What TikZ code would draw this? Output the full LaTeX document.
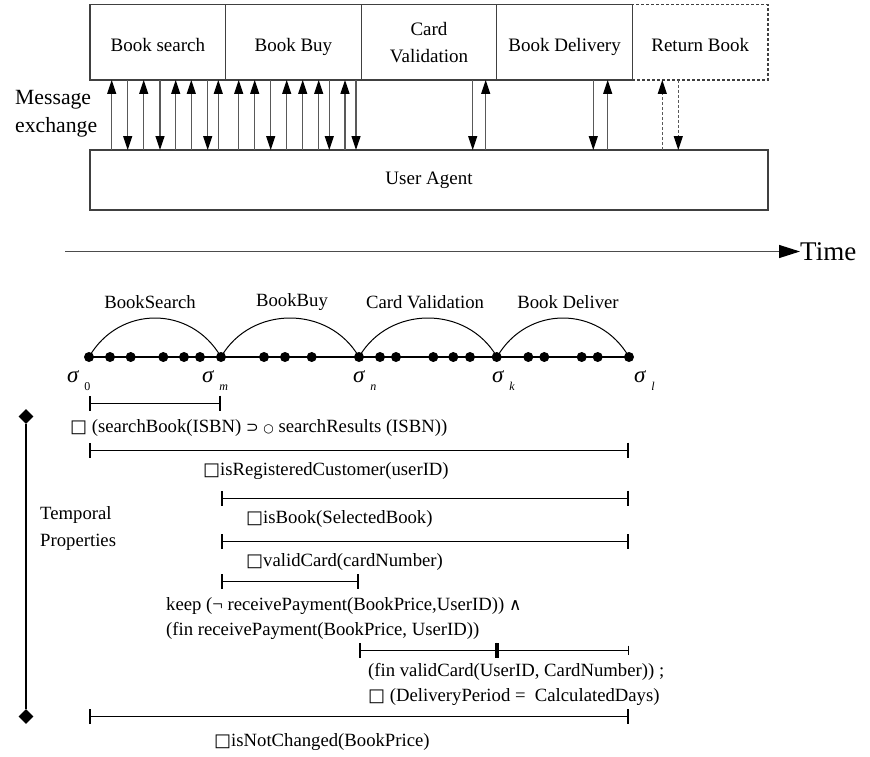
\documentclass[tikz,border=0pt]{standalone}
\usepackage{fontspec}
\setmainfont{Liberation Serif}
\newfontfamily\symfont{DejaVu Sans}
\usetikzlibrary{shapes.geometric, arrows.meta, positioning}

\newcommand{\sym}[2][11]{{\symfont\fontsize{#1}{#1}\selectfont #2}}
\newcommand{\alw}{\sym[18]{□}}
\newcommand{\sig}[1]{\textit{σ}\hspace{5pt}\raisebox{-8pt}{\fontsize{12}{12}\selectfont #1}}

\tikzstyle{service} = [draw=black!75, line width=1.3pt, outer sep=0pt, minimum width=135.6pt, minimum height=75.3pt, inner sep=0pt, align=center, font=\fontsize{19}{26.6}\selectfont]
\tikzstyle{oneline} = [text height=19pt, text depth=0pt]
\tikzstyle{agentbox} = [draw=black!75, line width=1.3pt, outer sep=0pt, minimum width=678pt, minimum height=60pt, font=\fontsize{19}{22}\selectfont]
\tikzstyle{msg} = [draw=black!65, line width=1.2pt, -{Triangle[length=14pt, width=9pt, color=black]}]
\tikzstyle{msgdash} = [msg, dash pattern=on 3pt off 2pt]
\tikzstyle{evt} = [circle, fill=black, inner sep=0pt, minimum size=10pt]
\tikzstyle{interval} = [line width=1pt, {Bar[width=15pt, line width=2pt]}-{Bar[width=15pt, line width=2pt]}]
\tikzstyle{prop} = [anchor=base west, inner sep=0pt, font=\fontsize{18.7}{22}\selectfont]
\tikzstyle{sigma} = [anchor=base west, inner sep=0pt, font=\fontsize{23}{26}\selectfont]

\begin{document}
\begin{tikzpicture}[x=1pt, y=-1pt]
    \useasboundingbox (0,0) rectangle (870,756);

    % Services
    \node[service, oneline] (search) at (157.8,42.3) {Book search};
    \node[service, oneline, right=0pt of search] (buy) {Book Buy};
    \node[service, right=0pt of buy] (card) {Card\\Validation};
    \node[service, oneline, right=0pt of card] (deliver) {Book Delivery};
    \node[service, oneline, right=0pt of deliver, dash pattern=on 3pt off 2pt] (return) {Return Book};
    \node[agentbox] (agent) at (429,180) {User Agent};
    \node[anchor=west, align=left, inner sep=0pt, font=\fontsize{21.7}{28.2}\selectfont] (msgx) at (15,113.8) {Message\\exchange};

    % Message arrows
    \foreach \x in {111.7,143.7,175.7,191.3,218.3,238.7,254.7,286.7,302.7,318.7,345,485.7,607.7}
        \draw[msg] (\x,0 |- agent.north) -- (\x,0 |- search.south);
    \foreach \x in {127.7,160,207.7,270.7,329.3,356,472.7,593.3}
        \draw[msg] (\x,0 |- search.south) -- (\x,0 |- agent.north);
    \draw[msgdash] (662.3,0 |- agent.north) -- (662.3,0 |- return.south);
    \draw[msgdash] (678.3,0 |- return.south) -- (678.3,0 |- agent.north);

    % Time
    \coordinate (t0) at (65,251.5);
    \node[anchor=west, inner sep=0pt, font=\fontsize{27}{30}\selectfont] (time) at (800,251.5) {Time};
    \draw[line width=1.2pt, draw=black!70, -{Triangle[length=21pt, width=13pt, color=black]}] (t0) -- (time.west);

    % States
    \coordinate (s0) at (89,357);
    \coordinate (sm) at (221,357);
    \coordinate (sn) at (359,357);
    \coordinate (sk) at (497,357);
    \coordinate (sl) at (629,357);
    \draw[line width=1.2pt] (s0) -- (sl);
    \draw[line width=1pt] (s0) .. controls +(30,-52) and +(-30,-52) .. (sm);
    \draw[line width=1pt] (sm) .. controls +(30,-52) and +(-30,-52) .. (sn);
    \draw[line width=1pt] (sn) .. controls +(30,-52) and +(-30,-52) .. (sk);
    \draw[line width=1pt] (sk) .. controls +(30,-52) and +(-30,-52) .. (sl);
    \node[font=\fontsize{18.7}{22}\selectfont] (lblsearch) at (150,302) {BookSearch};
    \node[font=\fontsize{18.7}{22}\selectfont] (lblbuy) at (292,302) {BookBuy};
    \node[font=\fontsize{18.7}{22}\selectfont] (lblcard) at (425,302) {Card Validation};
    \node[font=\fontsize{18.7}{22}\selectfont] (lbldeliver) at (568,302) {Book Deliver};
    \foreach \x [count=\i] in {89,110,130.7,163.3,184,200,221,264,285,311.7,359,380,396,433.3,453.3,470,496.7,528.3,544.3,581.7,597.7,629}
        \node[evt] (e\i) at (\x,357) {};
    \node[sigma] (sig0) at (67,382.7) {\sig{0}};
    \node[sigma] (sigm) at (202,382.7) {\sig{\textit{m}}};
    \node[sigma] (sign) at (353,382.7) {\sig{\textit{n}}};
    \node[sigma] (sigk) at (492,382.7) {\sig{\textit{k}}};
    \node[sigma] (sigl) at (634,382.7) {\sig{\textit{l}}};

    % Temporal properties
    \node[diamond, fill=black, inner sep=0pt, minimum size=15pt] (tpTop) at (26,416.5) {};
    \node[diamond, fill=black, inner sep=0pt, minimum size=15pt] (tpBot) at (26,716.5) {};
    \draw[line width=1.2pt] (tpTop) -- (tpBot);
    \node[prop] (tpl1) at (40,519.3) {Temporal};
    \node[prop] (tpl2) at (40,546) {Properties};

    % Intervals
    \draw[interval] (s0 |- 0,403) -- (sm |- 0,403);
    \node[prop] (p1) at (70,432.5) {\alw\ (searchBook(ISBN) \sym[15]{⊃} \sym[12]{○} searchResults (ISBN))};
    \draw[interval] (s0 |- 0,450) -- (sl |- 0,450);
    \node[prop] (p2) at (203,475.3) {\alw isRegisteredCustomer(userID)};
    \draw[interval] (sm |- 0,498) -- (sl |- 0,498);
    \node[prop] (p3) at (246,523.3) {\alw isBook(SelectedBook)};
    \draw[interval] (sm |- 0,541.7) -- (sl |- 0,541.7);
    \node[prop] (p4) at (246,566.7) {\alw validCard(cardNumber)};
    \draw[interval] (sm |- 0,581.7) -- (sn |- 0,581.7);
    \node[prop] (p5a) at (166,610) {keep (¬ receivePayment(BookPrice,UserID)) \sym[17]{∧}};
    \node[prop] (p5b) at (166,635.7) {(fin receivePayment(BookPrice, UserID))};
    \draw[interval] (sn |- 0,650) -- (sk |- 0,650);
    \draw[line width=1pt, {Bar[width=15pt, line width=2pt]}-{Bar[width=9pt, line width=1pt]}] (sk |- 0,650) -- (sl |- 0,650);
    \node[prop] (p6a) at (368,676) {(fin validCard(UserID, CardNumber)) ;};
    \node[prop] (p6b) at (368,701.7) {\alw\ (DeliveryPeriod =\ \ CalculatedDays)};
    \draw[interval] (s0 |- 0,716.7) -- (sl |- 0,716.7);
    \node[prop] (p7) at (214,746) {\alw isNotChanged(BookPrice)};

\end{tikzpicture}
\end{document}
